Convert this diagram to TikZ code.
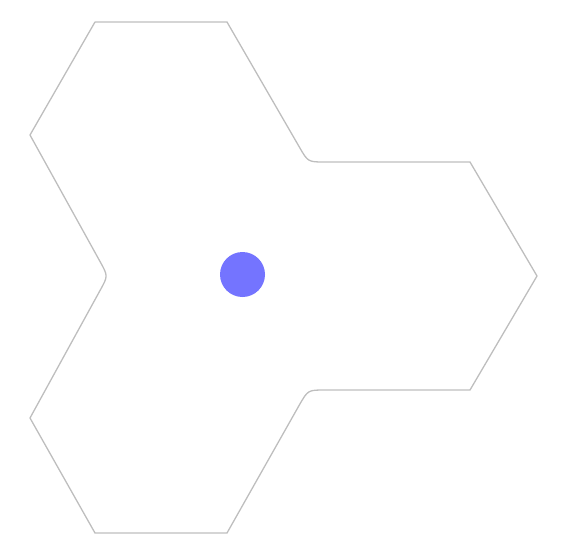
\documentclass[tikz,border=0pt]{standalone}
\usepackage{tikz}
\definecolor{outline}{RGB}{190,190,190}
\definecolor{dotblue}{RGB}{116,116,255}
\begin{document}
\begin{tikzpicture}[x=1pt,y=-1pt]
        \useasboundingbox (0,0) rectangle (567,558);

        % outline of the three hexagons
        \draw[outline, line width=1.3pt, line join=round]
            (95,22) -- (227,22) -- (299.5,147.3)
            .. controls (308,162) .. (325,162) --
            (470,162) -- (537,276) -- (470,390) -- (325,390)
            .. controls (308,390) .. (299.5,404.7) --
            (227,533) -- (95,533) -- (30,418) -- (100.3,290)
            .. controls (108,276) .. (100.3,262) --
            (30,135) -- cycle;

        % centre dot
        \node[circle, fill=dotblue, inner sep=0pt, minimum size=45pt] (centre) at (242.5,274.5) {};
    \end{tikzpicture}
\end{document}
